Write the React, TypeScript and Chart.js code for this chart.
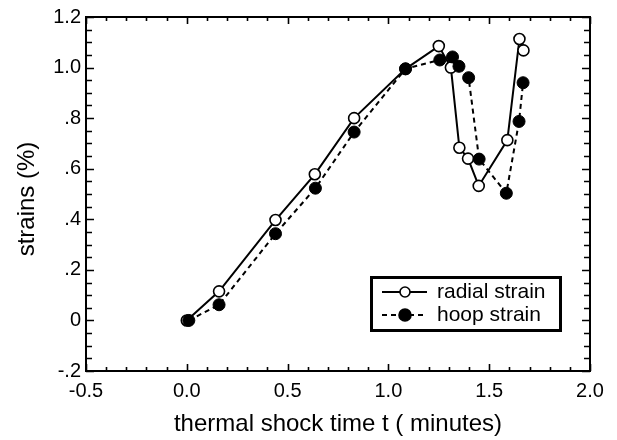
import React, { useEffect, useRef } from 'react';
import { Chart, registerables } from 'chart.js';

Chart.register(...registerables);

// ---- data ----
const radialX = [0.0, 0.16, 0.44, 0.635, 0.83, 1.085, 1.25, 1.31, 1.352, 1.395, 1.448, 1.59, 1.65, 1.67];
const radialY = [0.0, 0.115, 0.397, 0.578, 0.8, 0.995, 1.085, 1.0, 0.683, 0.64, 0.532, 0.713, 1.113, 1.068];
const hoopX = [0.01, 0.16, 0.44, 0.638, 0.83, 1.085, 1.255, 1.318, 1.35, 1.398, 1.45, 1.585, 1.648, 1.668];
const hoopY = [0.0, 0.062, 0.343, 0.523, 0.745, 0.995, 1.03, 1.042, 1.005, 0.96, 0.638, 0.503, 0.787, 0.94];

const seriesNames = ['radial strain', 'hoop strain'];
const xTitle = 'thermal shock time t ( minutes)';
const yTitle = 'strains (%)';
const xMin = -0.5, xMax = 2.0, xMajor = 0.5, xMinor = 0.1;
const yMin = -0.2, yMax = 1.2, yMajor = 0.2, yMinor = 0.05;

const FONT = "'Liberation Sans', Arial, Helvetica, sans-serif";

const fmtY = (v: number) => {
  if (Math.abs(v) < 1e-9) return '0';
  let s = v.toFixed(1);
  if (Math.abs(v) < 1) s = s.replace('0.', '.');
  return s;
};

const framePlugin = {
  id: 'frameTicks',
  afterDraw(chart: any) {
    const { ctx, chartArea: a, scales } = chart;
    const xs = scales.x, ys = scales.y;
    ctx.save();
    ctx.strokeStyle = '#000';
    ctx.lineWidth = 2;
    ctx.strokeRect(a.left, a.top, a.right - a.left, a.bottom - a.top);
    ctx.lineWidth = 1.6;
    ctx.beginPath();
    const nX = Math.round((xMax - xMin) / xMinor);
    for (let i = 0; i <= nX; i++) {
      const v = xMin + i * xMinor;
      const major = Math.abs(v / xMajor - Math.round(v / xMajor)) < 1e-6;
      const len = major ? 7 : 4;
      const px = Math.round(xs.getPixelForValue(v)) + 0.5;
      ctx.moveTo(px, a.bottom); ctx.lineTo(px, a.bottom - len);
      ctx.moveTo(px, a.top); ctx.lineTo(px, a.top + len);
    }
    const nY = Math.round((yMax - yMin) / yMinor);
    for (let i = 0; i <= nY; i++) {
      const v = yMin + i * yMinor;
      const major = Math.abs(v / yMajor - Math.round(v / yMajor)) < 1e-6;
      const len = major ? 8 : 6;
      const py = Math.round(ys.getPixelForValue(v)) + 0.5;
      ctx.moveTo(a.left, py); ctx.lineTo(a.left + len, py);
      ctx.moveTo(a.right, py); ctx.lineTo(a.right - len, py);
    }
    ctx.stroke();

    // axis titles
    ctx.fillStyle = '#000';
    ctx.font = `24px ${FONT}`;
    ctx.textAlign = 'center';
    ctx.textBaseline = 'alphabetic';
    ctx.fillText(xTitle, (a.left + a.right) / 2, 431);
    ctx.save();
    ctx.translate(27, 199);
    ctx.rotate(-Math.PI / 2);
    ctx.textBaseline = 'middle';
    ctx.fillText(yTitle, 0, 0);
    ctx.restore();

    // legend
    const lx = 370, ly = 276, lw = 192, lh = 56;
    ctx.fillStyle = '#fff';
    ctx.fillRect(lx, ly, lw, lh);
    ctx.lineWidth = 3;
    ctx.strokeStyle = '#000';
    ctx.strokeRect(lx + 1.5, ly + 1.5, lw - 3, lh - 3);
    const rows = [
      { y: 292, dash: [] as number[], fill: '#fff', r: 5 },
      { y: 315, dash: [5, 4], fill: '#000', r: 6 },
    ];
    rows.forEach((row, i) => {
      ctx.lineWidth = 2;
      ctx.setLineDash(row.dash);
      ctx.beginPath();
      ctx.moveTo(382, row.y); ctx.lineTo(427, row.y);
      ctx.stroke();
      ctx.setLineDash([]);
      ctx.beginPath();
      ctx.arc(405, row.y, row.r, 0, Math.PI * 2);
      ctx.fillStyle = row.fill;
      ctx.fill();
      ctx.lineWidth = 1.6;
      ctx.stroke();
      ctx.fillStyle = '#000';
      ctx.font = `21px ${FONT}`;
      ctx.textAlign = 'left';
      ctx.textBaseline = 'middle';
      ctx.fillText(seriesNames[i], 437, row.y);
    });
    ctx.restore();
  },
};

export default function App() {
  const ref = useRef<HTMLCanvasElement | null>(null);
  useEffect(() => {
    document.body.style.margin = '0';
    const canvas = ref.current!;
    const chart = new Chart(canvas, {
      type: 'scatter',
      data: {
        datasets: [
          {
            label: seriesNames[1],
            data: hoopX.map((x, i) => ({ x, y: hoopY[i] })),
            showLine: true,
            borderColor: '#000',
            borderWidth: 2,
            borderDash: [5, 4],
            pointRadius: 6,
            pointBackgroundColor: '#000',
            pointBorderColor: '#000',
            pointBorderWidth: 1,
            order: 0,
          },
          {
            label: seriesNames[0],
            data: radialX.map((x, i) => ({ x, y: radialY[i] })),
            showLine: true,
            borderColor: '#000',
            borderWidth: 2,
            pointRadius: 5.5,
            pointBackgroundColor: '#fff',
            pointBorderColor: '#000',
            pointBorderWidth: 1.6,
            order: 1,
          },
        ],
      },
      options: {
        responsive: false,
        animation: false,
        devicePixelRatio: 1,
        layout: { padding: { top: 15, right: 27, left: 0, bottom: 0 } },
        plugins: { legend: { display: false }, tooltip: { enabled: false } },
        scales: {
          x: {
            type: 'linear',
            min: xMin,
            max: xMax,
            grid: { display: false, drawTicks: false },
            border: { display: false },
            ticks: {
              stepSize: xMajor,
              padding: 8,
              color: '#000',
              font: { family: FONT, size: 20 },
              maxRotation: 0,
              callback: (v: any) => Number(v).toFixed(1),
            },
            afterFit: (s: any) => { s.height = 69; },
          },
          y: {
            type: 'linear',
            min: yMin,
            max: yMax,
            grid: { display: false, drawTicks: false },
            border: { display: false },
            ticks: {
              stepSize: yMajor,
              padding: 5,
              color: '#000',
              font: { family: FONT, size: 20 },
              callback: (v: any) => fmtY(Number(v)),
            },
            afterFit: (s: any) => { s.width = 86; },
          },
        },
      },
      plugins: [framePlugin],
    });
    return () => chart.destroy();
  }, []);
  return (
    <canvas
      ref={ref}
      width={617}
      height={440}
      style={{ position: 'absolute', left: 0, top: 0, width: 617, height: 440, background: '#fff' }}
    />
  );
}
